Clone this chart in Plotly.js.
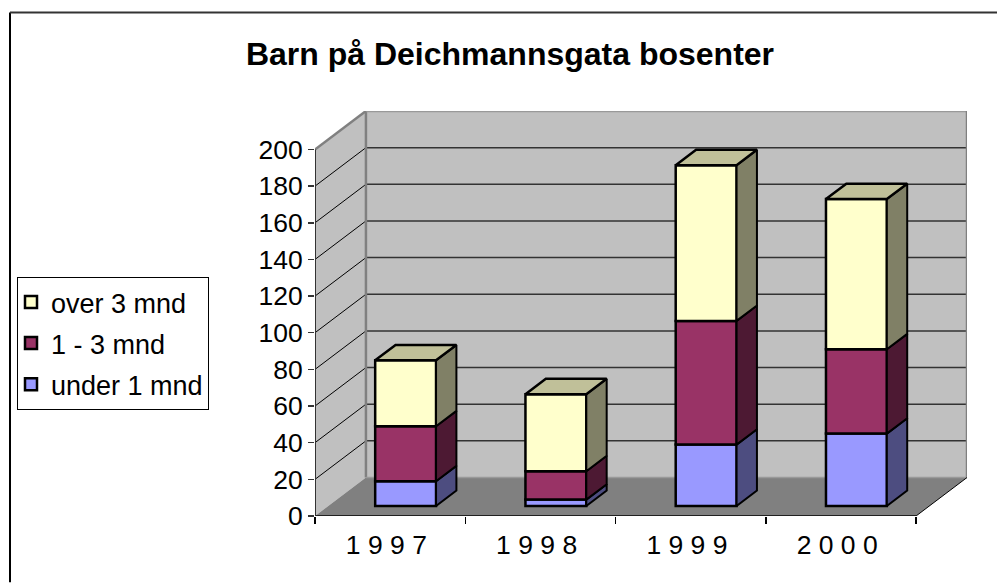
<!DOCTYPE html>
<html><head><meta charset="utf-8">
<script src="https://cdn.plot.ly/plotly-3.0.1.min.js"></script>
<style>html,body{margin:0;padding:0;background:#fff}#c{width:997px;height:583px}</style>
</head><body><div id="c"></div>
<script>
const categories = ['1 9 9 7','1 9 9 8','1 9 9 9','2 0 0 0'];
const under1 = [13.5, 3.5, 33.5, 39.5];
const oneToThree = [30, 15.5, 67.5, 46];
const over3 = [36, 42, 85, 82];
const seriesNames = ['under 1 mnd','1 - 3 mnd','over 3 mnd'];
const yTicks = [0,20,40,60,80,100,120,140,160,180,200];

const frontColors = ['#9999FF','#993366','#FFFFCC'];
const sideColors = ['#4D4D80','#4D1933','#808066'];
const topColors = ['#7A7ACC','#7A2952','#C0C099'];

// oblique projection: depth d in [0,1] moves a point by d*DX, d*DY (axis units)
const DX = 0.339, DY = 21;
const DD = 0.40;
const BW = 0.405;
const XMAX = categories.length, YMAX = 200;
const ox = 0.103, oy = 5.46;

const series = [under1, oneToThree, over3];
const traces = [];
const cum = categories.map(()=>0);
const polys = [];
series.forEach((vals,s)=>{
  const bases = cum.slice();
  traces.push({type:'bar', name:seriesNames[s], legendgroup:seriesNames[s], legendrank:1000-s, x:categories.map((_,i)=>i+0.5+ox), y:vals,
    base:bases.map(b=>b+oy), width:BW, marker:{color:frontColors[s], line:{color:'#000',width:2.5}}, hoverinfo:'name+y'});
  vals.forEach((v,i)=>{
    const xr=i+0.5+BW/2+ox, y0=bases[i]+oy, y1=bases[i]+v+oy;
    polys.push({type:'scatter',mode:'lines',showlegend:false,hoverinfo:'skip',
      x:[xr,xr+DX*DD,xr+DX*DD,xr,xr], y:[y0,y0+DY*DD,y1+DY*DD,y1,y0],
      fill:'toself',fillcolor:sideColors[s],line:{color:'#000',width:2}});
    if(s===series.length-1){
      const xl=xr-BW;
      polys.push({type:'scatter',mode:'lines',showlegend:false,hoverinfo:'skip',
        x:[xl,xr,xr+DX*DD,xl+DX*DD,xl], y:[y1,y1,y1+DY*DD,y1+DY*DD,y1],
        fill:'toself',fillcolor:topColors[s],line:{color:'#000',width:2.5}});
    }
    cum[i]+=v;
  });
});

function poly(pts,fill,lineColor,w){
  return {type:'path',layer:'below',xref:'x',yref:'y',
    path:'M'+pts.map(p=>p[0]+','+p[1]).join('L')+'Z',fillcolor:fill,line:{color:lineColor||fill,width:w||0}};
}
function seg(x0,y0,x1,y1,color,w,layer){
  return {type:'line',layer:layer||'below',xref:'x',yref:'y',x0,y0,x1,y1,line:{color,width:w}};
}
const shapes=[
  poly([[0,0],[DX,DY],[DX,YMAX+DY],[0,YMAX]],'#C0C0C0'),
  poly([[DX,DY],[XMAX+DX,DY],[XMAX+DX,YMAX+DY],[DX,YMAX+DY]],'#C0C0C0'),
  poly([[0,0],[XMAX,0],[XMAX+DX,DY],[DX,DY]],'#808080'),
];
yTicks.forEach(t=>{
  if(t>0&&t<YMAX){ shapes.push(seg(0,t,DX,t+DY,'#000',1)); }
  if(t>0&&t<YMAX){ shapes.push(seg(DX,t+DY,XMAX+DX,t+DY,'#333',1.5)); }
});
shapes.push(seg(DX,DY,DX,YMAX+DY,'#808080',2.5));
shapes.push(seg(DX,YMAX+DY,XMAX+DX,YMAX+DY,'#999',2.5));
shapes.push(seg(XMAX+DX,DY,XMAX+DX,YMAX+DY,'#808080',2.5));
shapes.push(seg(DX,DY,XMAX+DX,DY,'#999',1.5));
shapes.push(seg(0,YMAX,DX,YMAX+DY,'#808080',2.5));
shapes.push(seg(XMAX,0,XMAX+DX,DY,'#000',1));
shapes.push(seg(0,0,XMAX,0,'#000',1.5));
shapes.push(seg(0,0,0,YMAX,'#333',2));
// chart frame, in paper coordinates
const PW=652, PH=405.8, L=315, B=516.5;
const px=v=>(v-L)/PW, py=v=>(B-v)/PH;
shapes.push({type:'line',xref:'paper',yref:'paper',x0:px(10),x1:px(10),y0:py(12),y1:py(583),line:{color:'#000',width:2}});
shapes.push({type:'line',xref:'paper',yref:'paper',x0:px(10),x1:px(997),y0:py(12),y1:py(12),line:{color:'#333',width:2}});

const layout={
  width:997,height:583,paper_bgcolor:'#fff',plot_bgcolor:'rgba(0,0,0,0)',
  margin:{l:315,r:30,t:110.7,b:66.5,pad:0},
  barmode:'overlay',
  font:{family:'"Liberation Sans",Arial,sans-serif',color:'#000'},
  title:{text:'Barn på Deichmannsgata bosenter',font:{size:32,family:'"Liberation Sans",Arial,sans-serif',weight:700,color:'#000'},
    x:510/997,xanchor:'center',y:1-54/583,yanchor:'middle'},
  xaxis:{range:[0,XMAX+DX],showgrid:false,zeroline:false,showline:false,
    tickmode:'array',tickvals:categories.map((_,i)=>i+0.475),ticktext:categories,ticks:'',
    tickfont:{size:26.5},ticklen:0,ticklabelstandoff:10,
    minor:{tickmode:'array',tickvals:[0,1,2,3,4],ticks:'outside',ticklen:7,tickcolor:'#000',tickwidth:1.5,showgrid:false}},
  yaxis:{range:[0,YMAX+DY],showgrid:false,zeroline:false,showline:false,
    tickmode:'array',tickvals:yTicks,ticks:'outside',ticklen:6,tickcolor:'#333',tickwidth:1.5,tickfont:{size:26.5}},
  legend:{x:px(17),y:py(277),xanchor:'left',yanchor:'top',traceorder:'grouped',tracegroupgap:3,indentation:-7,
    bordercolor:'#000',borderwidth:1,bgcolor:'#fff',font:{size:27}},
  shapes
};
Plotly.newPlot('c',traces.concat(polys),layout,{displayModeBar:false,staticPlot:true});
</script></body></html>
